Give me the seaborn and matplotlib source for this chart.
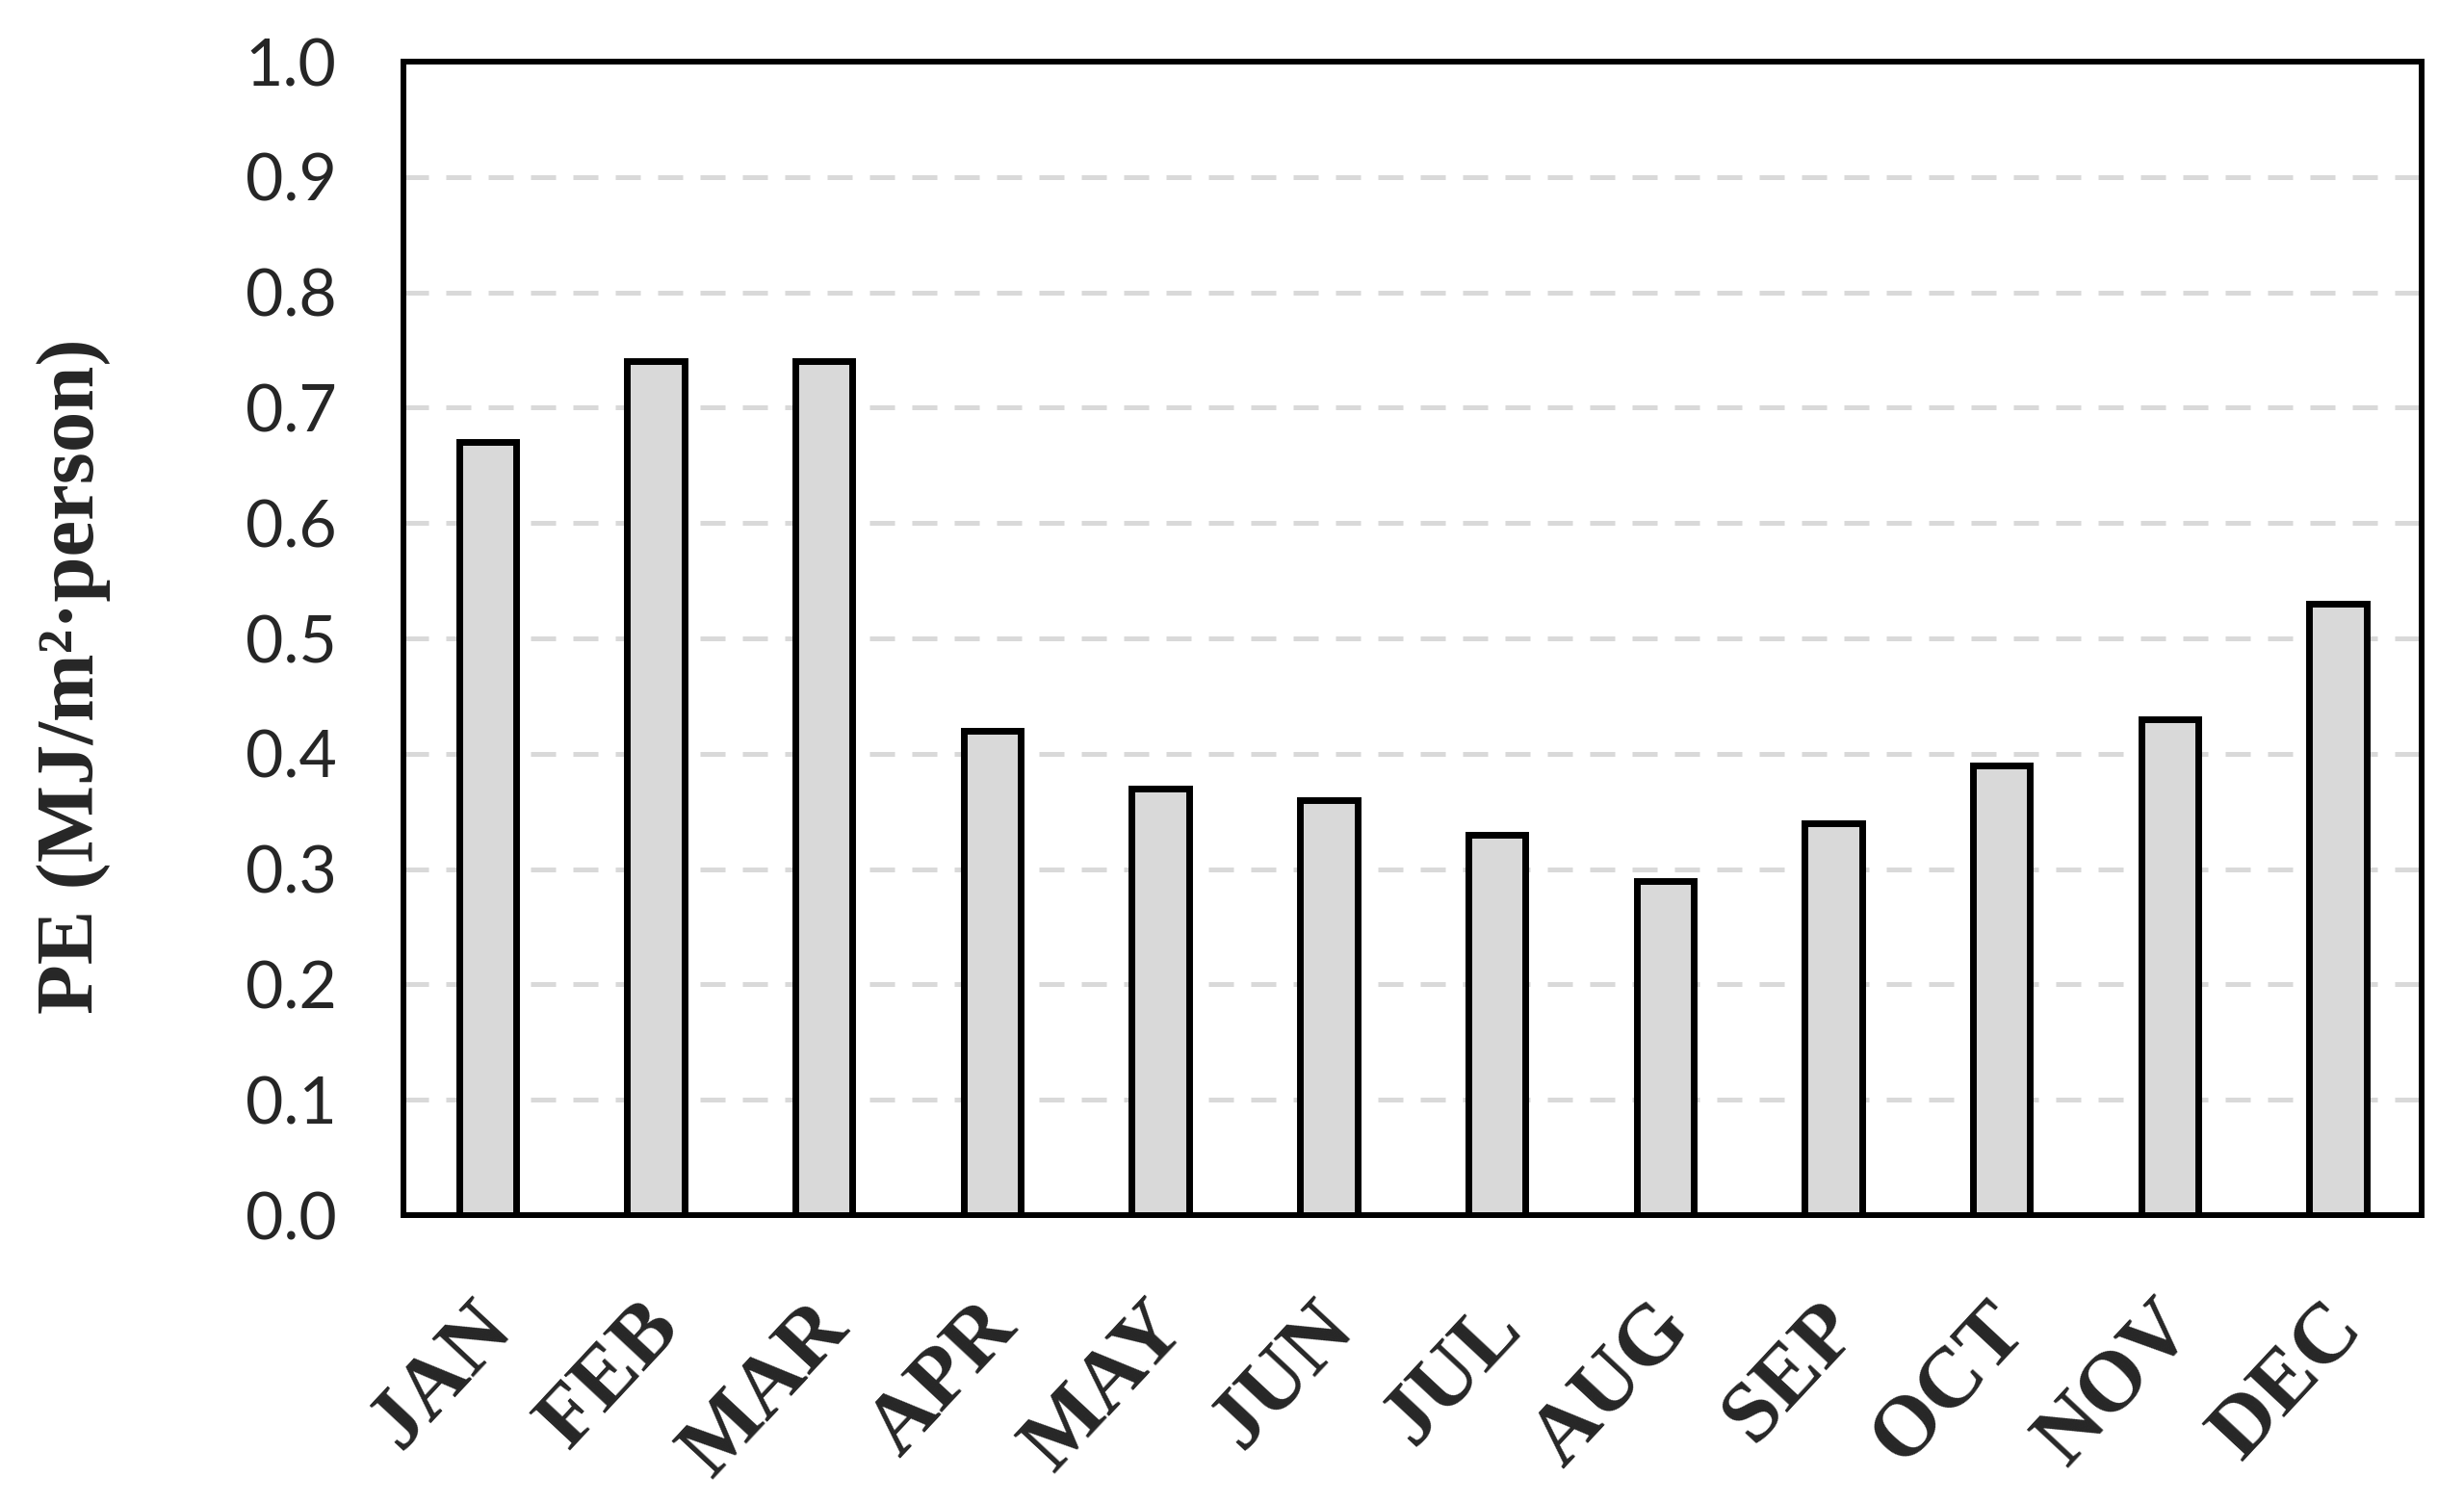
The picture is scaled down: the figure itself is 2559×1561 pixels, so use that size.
import matplotlib
matplotlib.use("Agg")
import matplotlib.pyplot as plt
import matplotlib.transforms as mtransforms
import numpy as np
import pandas as pd
import seaborn as sns

months = ["JAN", "FEB", "MAR", "APR", "MAY", "JUN",
          "JUL", "AUG", "SEP", "OCT", "NOV", "DEC"]
pe_values = [0.67, 0.74, 0.74, 0.42, 0.37, 0.36,
             0.33, 0.29, 0.34, 0.39, 0.43, 0.53]
y_ticks = [0.0, 0.1, 0.2, 0.3, 0.4, 0.5, 0.6, 0.7, 0.8, 0.9, 1.0]

df = pd.DataFrame({"month": months, "pe": pe_values})

sns.set_style("white")
plt.rcParams["font.family"] = ["Lato", "DejaVu Sans"]

fig = plt.figure(figsize=(25.59, 15.61), dpi=100)
ax = fig.add_axes([0.1637, 0.1915, 0.8193, 0.7675])

sns.barplot(data=df, x="month", y="pe", color="#d9d9d9", saturation=1,
            width=0.34, edgecolor="black", linewidth=5, ax=ax, zorder=3)

ax.set_ylim(0, 1.0)
ax.set_xlim(-0.5, 11.5)
ax.set_yticks(y_ticks)
ax.set_yticklabels([f"{t:.1f}" for t in y_ticks], fontsize=49)
ax.tick_params(axis="y", length=0, pad=50)
ax.tick_params(axis="x", length=0, pad=55)

# dashed light-grey gridlines (skip 0 and 1, they sit on the frame)
for t in y_ticks[1:-1]:
    ax.axhline(t, color="#d9d9d9", lw=3.6, dashes=(5.2, 3.6), zorder=1)

ax.set_xticks(range(len(months)))
ax.set_xticklabels(months, rotation=47, ha="right", rotation_mode="anchor",
                   fontsize=64, fontweight="bold", family="Liberation Serif")
# nudge the rotated month labels a little to the left
shift = mtransforms.ScaledTranslation(-18 / 100, 0, fig.dpi_scale_trans)
for lbl in ax.get_xticklabels():
    lbl.set_transform(lbl.get_transform() + shift)

ax.set_xlabel("")
ax.set_ylabel("PE (MJ/m²·person)", fontsize=61, fontweight="bold",
              family="Liberation Serif")
ax.yaxis.set_label_coords(-0.145, 0.467)

for s in ax.spines.values():
    s.set_linewidth(4.3)
    s.set_color("black")
    s.set_visible(True)

fig.savefig("out.png", dpi=100)
